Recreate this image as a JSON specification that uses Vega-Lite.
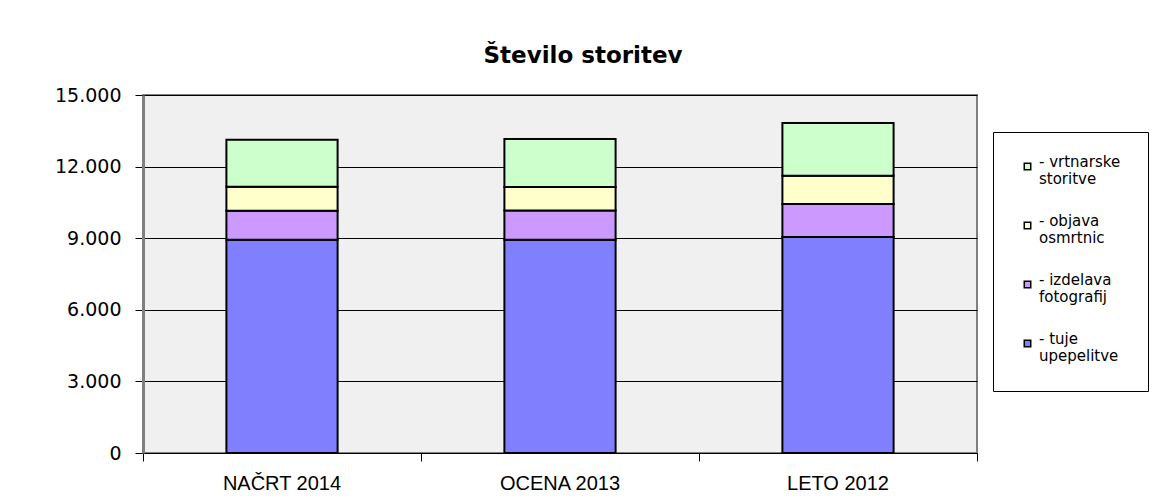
{
  "$schema": "https://vega.github.io/schema/vega-lite/v6.json",
  "autosize": "none",
  "width": 834,
  "height": 358,
  "padding": {"left": 143, "top": 95, "right": 178, "bottom": 47},
  "background": "white",
  "title": {
    "text": "Število storitev",
    "font": "DejaVu Sans",
    "fontWeight": "bold",
    "fontSize": 23,
    "color": "black",
    "anchor": "middle",
    "dx": 23,
    "offset": 18
  },
  "data": {
    "values": [
      {"kategorija": "NAČRT 2014", "storitev": "tuje upepelitve", "rang": 1, "vrednost": 8940},
      {"kategorija": "NAČRT 2014", "storitev": "izdelava fotografij", "rang": 2, "vrednost": 1210},
      {"kategorija": "NAČRT 2014", "storitev": "objava osmrtnic", "rang": 3, "vrednost": 1005},
      {"kategorija": "NAČRT 2014", "storitev": "vrtnarske storitve", "rang": 4, "vrednost": 1970},
      {"kategorija": "OCENA 2013", "storitev": "tuje upepelitve", "rang": 1, "vrednost": 8940},
      {"kategorija": "OCENA 2013", "storitev": "izdelava fotografij", "rang": 2, "vrednost": 1225},
      {"kategorija": "OCENA 2013", "storitev": "objava osmrtnic", "rang": 3, "vrednost": 980},
      {"kategorija": "OCENA 2013", "storitev": "vrtnarske storitve", "rang": 4, "vrednost": 2010},
      {"kategorija": "LETO 2012", "storitev": "tuje upepelitve", "rang": 1, "vrednost": 9050},
      {"kategorija": "LETO 2012", "storitev": "izdelava fotografij", "rang": 2, "vrednost": 1380},
      {"kategorija": "LETO 2012", "storitev": "objava osmrtnic", "rang": 3, "vrednost": 1190},
      {"kategorija": "LETO 2012", "storitev": "vrtnarske storitve", "rang": 4, "vrednost": 2210}
    ]
  },
  "mark": {"type": "bar", "stroke": "black", "strokeWidth": 2, "width": {"band": 0.4}},
  "encoding": {
    "x": {
      "field": "kategorija",
      "type": "nominal",
      "sort": ["NAČRT 2014", "OCENA 2013", "LETO 2012"],
      "scale": {"paddingInner": 0, "paddingOuter": 0},
      "axis": {
        "title": null,
        "labelAngle": 0,
        "labelFont": "Liberation Sans",
        "labelFontSize": 20,
        "labelColor": "black",
        "labelPadding": 12,
        "domainColor": "black",
        "domainWidth": 1,
        "tickColor": "black",
        "tickSize": 8,
        "bandPosition": 1,
        "tickExtra": true,
        "grid": false
      }
    },
    "y": {
      "field": "vrednost",
      "type": "quantitative",
      "aggregate": "sum",
      "stack": "zero",
      "scale": {"domain": [0, 15000], "nice": false},
      "axis": {
        "title": null,
        "values": [0, 3000, 6000, 9000, 12000, 15000],
        "labelExpr": "replace(format(datum.value, ','), ',', '.')",
        "labelFont": "DejaVu Sans",
        "labelFontSize": 19,
        "labelColor": "black",
        "labelPadding": 14,
        "domainColor": "#808080",
        "domainWidth": 3,
        "tickColor": "black",
        "tickSize": 8,
        "grid": true,
        "gridColor": "black",
        "gridWidth": 1,
        "gridOpacity": 1
      }
    },
    "color": {
      "field": "storitev",
      "type": "nominal",
      "scale": {
        "domain": ["vrtnarske storitve", "objava osmrtnic", "izdelava fotografij", "tuje upepelitve"],
        "range": ["#ccffcc", "#ffffcc", "#cc99ff", "#8080ff"]
      },
      "legend": {
        "title": null,
        "orient": "none",
        "legendX": 850,
        "legendY": 37,
        "padding": 27,
        "strokeColor": "black",
        "fillColor": "white",
        "symbolType": "square",
        "symbolSize": 42,
        "symbolStrokeColor": "black",
        "symbolStrokeWidth": 1.5,
        "symbolOpacity": 1,
        "labelOffset": 4,
        "labelFont": "DejaVu Sans",
        "labelFontSize": 15,
        "labelColor": "black",
        "labelLimit": 200,
        "labelBaseline": "alphabetic",
        "rowPadding": 26,
        "labelExpr": "[' - ' + split(datum.label, ' ')[0], split(datum.label, ' ')[1]]"
      }
    },
    "order": {"field": "rang", "type": "quantitative"}
  },
  "config": {
    "view": {"fill": "#f0f0f0", "stroke": "#808080", "strokeWidth": 2}
  }
}
